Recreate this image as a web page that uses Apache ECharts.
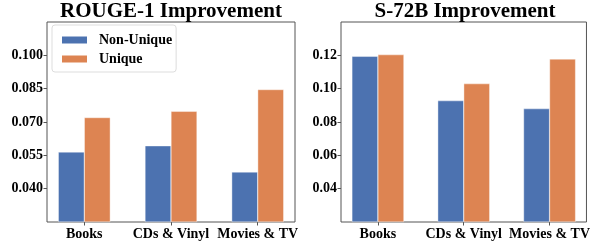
<!DOCTYPE html>
<html>
<head>
<meta charset="utf-8">
<script src="https://cdn.jsdelivr.net/npm/echarts@6/dist/echarts.min.js"></script>
<style>
  html, body { margin: 0; padding: 0; background: #fff; }
  #chart { width: 593px; height: 242px; }
</style>
</head>
<body>
<div id="chart"></div>
<script>
var categories = ['Books', 'CDs & Vinyl', 'Movies & TV'];
var rougeNonUnique = [0.0565, 0.0593, 0.0475];
var rougeUnique = [0.0720, 0.0748, 0.0846];
var s72NonUnique = [0.1194, 0.0928, 0.0880];
var s72Unique = [0.1204, 0.1030, 0.1178];
var rougeTicks = [0.040, 0.055, 0.070, 0.085, 0.100];
var s72Ticks = [0.04, 0.06, 0.08, 0.10, 0.12];

var BLUE = '#4c72b0';
var ORANGE = '#dd8452';
var FRAME = '#555';
var FONT = '"Liberation Serif", "DejaVu Serif", serif';

function pts(arr) {
    return arr.map(function (v, i) { return [i, v]; });
}

var catIdx = categories.map(function (c, i) { return i; });

function xAxis(gridIndex) {
    return {
        type: 'value',
        gridIndex: gridIndex,
        min: -0.43,
        max: 2.43,
        axisLine: { show: false, onZero: false },
        splitLine: { show: false },
        axisTick: { show: true, length: 3.5, customValues: catIdx, lineStyle: { color: FRAME } },
        axisLabel: {
            customValues: catIdx,
            margin: 5,
            color: '#000',
            fontFamily: FONT,
            fontWeight: 'bold',
            fontSize: 14,
            formatter: function (v) { return categories[Math.round(v)]; }
        }
    };
}

function yAxis(gridIndex, min, max, ticks, digits) {
    return {
        type: 'value',
        gridIndex: gridIndex,
        min: min,
        max: max,
        startValue: min,
        axisLine: { show: false, onZero: false },
        splitLine: { show: false },
        axisTick: { show: true, length: 3.5, customValues: ticks, lineStyle: { color: FRAME } },
        axisLabel: {
            customValues: ticks,
            margin: 4,
            color: '#000',
            fontFamily: FONT,
            fontWeight: 'bold',
            fontSize: 14,
            formatter: function (v) { return v.toFixed(digits); }
        }
    };
}

function bar(name, data, color, idx) {
    return {
        name: name,
        type: 'bar',
        xAxisIndex: idx,
        yAxisIndex: idx,
        barWidth: 26,
        barGap: '0%',
        clip: true,
        itemStyle: { color: color, borderColor: '#fff', borderWidth: 0.4 },
        data: pts(data)
    };
}

var myChart = echarts.init(document.getElementById('chart'));

myChart.setOption({
    backgroundColor: '#fff',
    animation: false,
    title: [{
        text: 'ROUGE-1 Improvement',
        left: 171,
        top: 1,
        textAlign: 'center',
        padding: 0,
        textStyle: { fontFamily: FONT, fontWeight: 'bold', fontSize: 21, color: '#000' }
    }, {
        text: 'S-72B Improvement',
        left: 465,
        top: 1,
        textAlign: 'center',
        padding: 0,
        textStyle: { fontFamily: FONT, fontWeight: 'bold', fontSize: 21, color: '#000' }
    }],
    legend: {
        orient: 'vertical',
        left: 52,
        top: 25,
        data: ['Non-Unique', 'Unique'],
        icon: 'rect',
        itemWidth: 27,
        itemHeight: 9,
        itemGap: 5,
        padding: [8, 4, 6, 8],
        backgroundColor: '#fff',
        borderColor: '#ddd',
        borderWidth: 1,
        borderRadius: 3,
        textStyle: {
            fontFamily: FONT,
            fontWeight: 'bold',
            fontSize: 14,
            color: '#000',
            padding: [0, 0, 0, 6]
        }
    },
    grid: [
        { left: 47, right: 298, top: 22, bottom: 20, show: true, borderColor: FRAME, borderWidth: 1, backgroundColor: 'transparent' },
        { left: 341, right: 4, top: 22, bottom: 20, show: true, borderColor: FRAME, borderWidth: 1, backgroundColor: 'transparent' }
    ],
    xAxis: [xAxis(0), xAxis(1)],
    yAxis: [
        yAxis(0, 0.025, 0.115, rougeTicks, 3),
        yAxis(1, 0.02, 0.14, s72Ticks, 2)
    ],
    series: [
        bar('Non-Unique', rougeNonUnique, BLUE, 0),
        bar('Unique', rougeUnique, ORANGE, 0),
        bar('Non-Unique', s72NonUnique, BLUE, 1),
        bar('Unique', s72Unique, ORANGE, 1)
    ]
});
</script>
</body>
</html>
